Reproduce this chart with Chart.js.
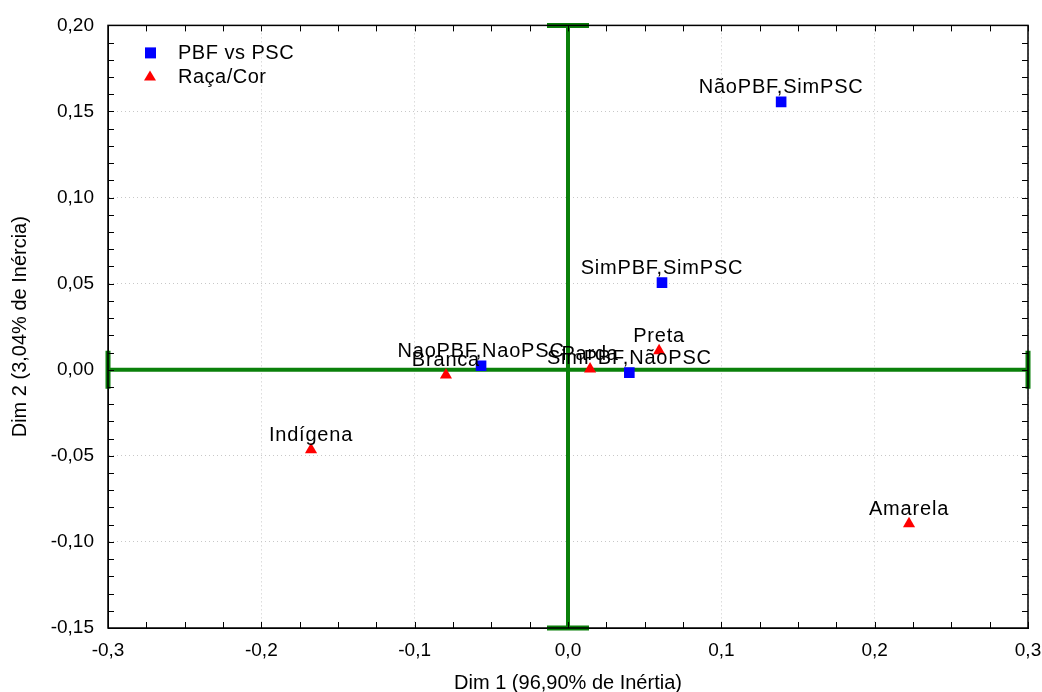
<!DOCTYPE html>
<html>
<head>
<meta charset="utf-8">
<script src="https://cdn.jsdelivr.net/npm/chart.js@4.4.1/dist/chart.umd.min.js"></script>
<style>
  html, body { margin: 0; padding: 0; background: #fff; }
  #box { width: 1042px; height: 692px; }
</style>
</head>
<body>
<div id="box"><canvas id="myChart"></canvas></div>
<script>
// PBF vs PSC
const pbfNomes = ['NãoPBF,SimPSC', 'SimPBF,SimPSC', 'NaoPBF,NaoPSC', 'SimPBF,NãoPSC'];
const pbfDim1 = [0.139, 0.0613, -0.0567, 0.040];
const pbfDim2 = [0.1556, 0.0506, 0.0023, -0.0017];
// Raça/Cor
const racaNomes = ['Branca', 'Parda', 'Preta', 'Indígena', 'Amarela'];
const racaDim1 = [-0.0796, 0.0144, 0.0594, -0.1676, 0.2224];
const racaDim2 = [-0.003, 0.0005, 0.011, -0.0465, -0.0894];

const legendas = ['PBF vs PSC', 'Raça/Cor'];
const xTitulo = 'Dim 1 (96,90% de Inértia)';
const yTitulo = 'Dim 2 (3,04% de Inércia)';

const fonte = '"Liberation Sans", Arial, sans-serif';
const verde = '#0a800a';

function pontos(xs, ys, nomes) {
    return xs.map((x, i) => ({ x: x, y: ys[i], nome: nomes[i] }));
}

// eixos verdes em x=0 e y=0, com "tampas" nas pontas
const eixosZero = {
    id: 'eixosZero',
    beforeDatasetsDraw(chart) {
        const ctx = chart.ctx;
        const xs = chart.scales.x, ys = chart.scales.y;
        const x0 = xs.getPixelForValue(0), y0 = ys.getPixelForValue(0);
        const a = chart.chartArea;
        ctx.save();
        ctx.strokeStyle = verde;
        ctx.lineWidth = 4;
        ctx.beginPath();
        ctx.moveTo(x0, a.top); ctx.lineTo(x0, a.bottom);
        ctx.moveTo(a.left, y0); ctx.lineTo(a.right, y0);
        ctx.stroke();
        ctx.lineWidth = 5;
        ctx.beginPath();
        ctx.moveTo(x0 - 21, a.top); ctx.lineTo(x0 + 21, a.top);
        ctx.moveTo(x0 - 21, a.bottom); ctx.lineTo(x0 + 21, a.bottom);
        ctx.moveTo(a.left, y0 - 19); ctx.lineTo(a.left, y0 + 19);
        ctx.moveTo(a.right, y0 - 19); ctx.lineTo(a.right, y0 + 19);
        ctx.stroke();
        ctx.restore();
    },
    afterDraw(chart) {
        const ctx = chart.ctx;
        const xs = chart.scales.x, ys = chart.scales.y;
        const a = chart.chartArea;
        ctx.save();
        // moldura
        ctx.strokeStyle = '#000';
        ctx.lineWidth = 1.5;
        ctx.strokeRect(a.left, a.top, a.right - a.left, a.bottom - a.top);
        // marcas menores para dentro
        ctx.lineWidth = 1;
        ctx.beginPath();
        for (let i = 0; i <= 24; i++) {
            const px = Math.round(xs.getPixelForValue(-0.3 + i * 0.025)) + 0.5;
            ctx.moveTo(px, a.top); ctx.lineTo(px, a.top + 6);
            ctx.moveTo(px, a.bottom); ctx.lineTo(px, a.bottom - 6);
        }
        for (let i = 0; i <= 35; i++) {
            const py = Math.round(ys.getPixelForValue(-0.15 + i * 0.01)) + 0.5;
            ctx.moveTo(a.left, py); ctx.lineTo(a.left + 6, py);
            ctx.moveTo(a.right, py); ctx.lineTo(a.right - 6, py);
        }
        ctx.stroke();

        // rótulos dos pontos
        ctx.fillStyle = '#000';
        ctx.font = '20px ' + fonte;
        ctx.letterSpacing = '0.8px';
        ctx.textAlign = 'center';
        ctx.textBaseline = 'alphabetic';
        chart.data.datasets.forEach(ds => {
            ds.data.forEach(p => {
                ctx.fillText(p.nome, xs.getPixelForValue(p.x), ys.getPixelForValue(p.y) - 9);
            });
        });

        // legenda dentro do gráfico
        const lx = a.left + 42, ly = a.top + 27;
        ctx.letterSpacing = '0.5px';
        chart.data.datasets.forEach((ds, i) => {
            const cy = ly + i * 24;
            ctx.fillStyle = ds.backgroundColor;
            if (ds.pointStyle === 'rect') {
                ctx.fillRect(lx - 5, cy - 5, 11, 11);
            } else {
                ctx.beginPath();
                ctx.moveTo(lx, cy - 6); ctx.lineTo(lx + 6, cy + 4); ctx.lineTo(lx - 6, cy + 4);
                ctx.closePath(); ctx.fill();
            }
            ctx.fillStyle = '#000';
            ctx.textAlign = 'left';
            ctx.textBaseline = 'middle';
            ctx.fillText(ds.label, lx + 28, cy + 1);
        });
        ctx.restore();
    }
};

new Chart('myChart', {
    type: 'scatter',
    data: {
        datasets: [{
            label: legendas[0],
            data: pontos(pbfDim1, pbfDim2, pbfNomes),
            backgroundColor: '#0000ff',
            borderColor: '#0000ff',
            pointStyle: 'rect',
            pointRadius: 7.5,
            borderWidth: 0
        }, {
            label: legendas[1],
            data: pontos(racaDim1, racaDim2, racaNomes),
            backgroundColor: '#ff0000',
            borderColor: '#ff0000',
            pointStyle: 'triangle',
            pointRadius: 7,
            borderWidth: 0
        }]
    },
    options: {
        responsive: true,
        maintainAspectRatio: false,
        animation: false,
        layout: { padding: { top: 25, right: 0, left: 0, bottom: 0 } },
        plugins: {
            legend: { display: false },
            tooltip: { enabled: false }
        },
        scales: {
            x: {
                type: 'linear',
                min: -0.3, max: 0.3,
                afterFit(scale) {
                    scale.height = 64;
                    scale.paddingLeft = 0;
                    scale.paddingRight = 14;
                },
                ticks: {
                    stepSize: 0.1,
                    color: '#000',
                    font: { family: fonte, size: 19 },
                    padding: 11,
                    maxRotation: 0,
                    callback: v => v.toFixed(1).replace('.', ',')
                },
                grid: {
                    color: '#c8c8c8',
                    drawTicks: false
                },
                border: { display: true, color: '#000', dash: [1, 3] },
                title: {
                    display: true,
                    text: xTitulo,
                    color: '#000',
                    font: { family: fonte, size: 20 },
                    padding: { top: 0, bottom: -3 }
                }
            },
            y: {
                type: 'linear',
                min: -0.15, max: 0.2,
                afterFit(scale) { scale.width = 108; },
                ticks: {
                    stepSize: 0.05,
                    color: '#000',
                    font: { family: fonte, size: 19 },
                    padding: 14,
                    callback: v => v.toFixed(2).replace('.', ',')
                },
                grid: {
                    color: '#c8c8c8',
                    drawTicks: false
                },
                border: { display: true, color: '#000', dash: [1, 3] },
                title: {
                    display: true,
                    text: yTitulo,
                    color: '#000',
                    font: { family: fonte, size: 20 },
                    padding: { top: 8, bottom: 0 }
                }
            }
        }
    },
    plugins: [eixosZero]
});
</script>
</body>
</html>
